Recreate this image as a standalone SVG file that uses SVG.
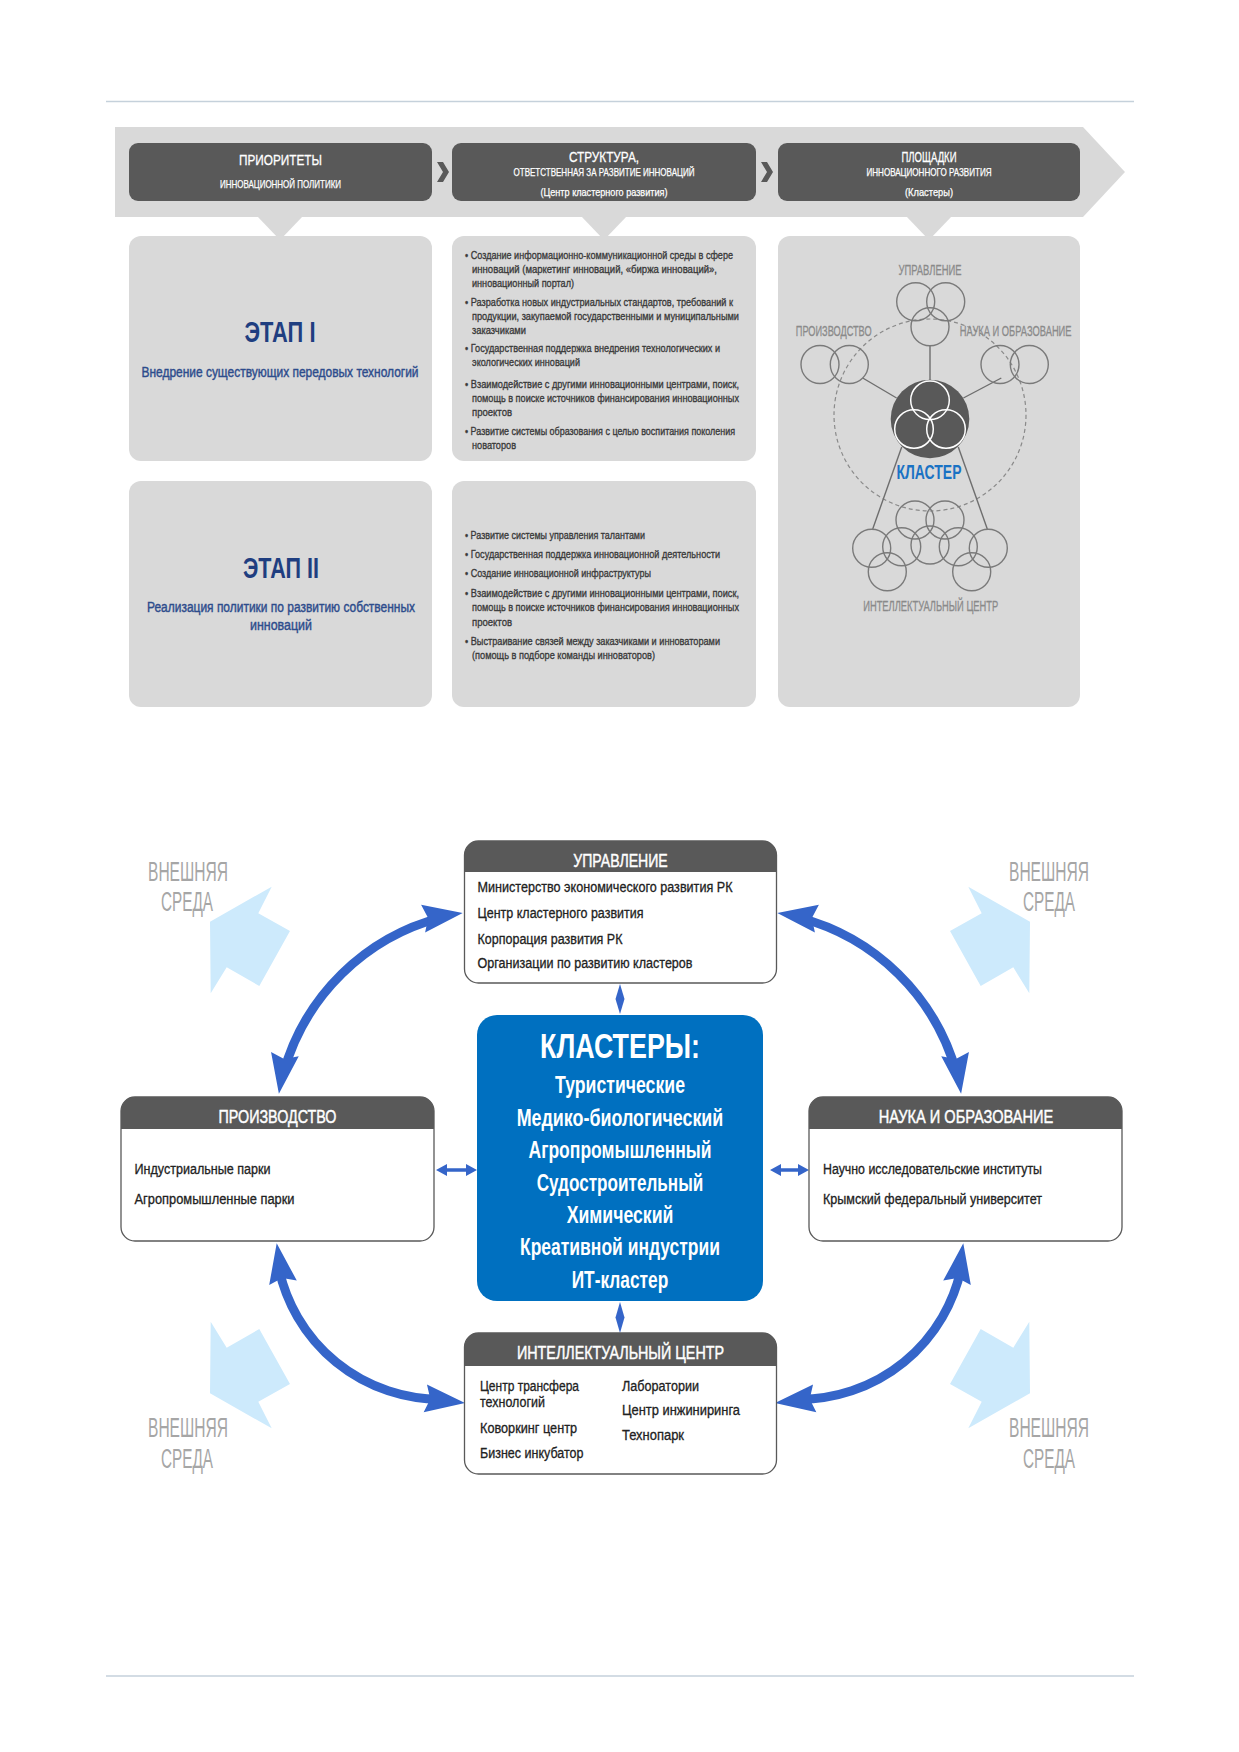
<svg xmlns="http://www.w3.org/2000/svg" width="1239" height="1752" viewBox="0 0 1239 1752">
<defs>
<style>
text{font-family:"Liberation Sans Narrow","Liberation Sans",Arial,sans-serif}
.bt{fill:#fff;stroke:#fff;stroke-width:0.3;font-size:15.5px;text-anchor:middle}
.bs{fill:#fff;stroke:#fff;stroke-width:0.25;font-size:10.5px;text-anchor:middle}
.bul{fill:#3a3a3a;stroke:#3a3a3a;stroke-width:0.35;font-size:11.5px}
.stg{fill:#1f3e80;font-size:29px;font-weight:bold;text-anchor:middle}
.sd{fill:#2d4c8c;stroke:#2d4c8c;stroke-width:0.4;font-size:14px;text-anchor:middle}
.cl{fill:#8a8a8a;stroke:#8a8a8a;stroke-width:0.3;font-size:14px;text-anchor:middle}
.circ{fill:none;stroke:#7a7a7a;stroke-width:1.4}
.ln{stroke:#6e6e6e;stroke-width:1.4}
.hd{fill:#fff;stroke:#fff;stroke-width:0.45;font-size:18px;text-anchor:middle}
.bd{fill:#222;stroke:#222;stroke-width:0.3;font-size:14px}
.ki{fill:#fff;font-size:24px;font-weight:bold;text-anchor:middle}
.ext{fill:#a6a6a6;font-size:27px;text-anchor:middle}
.ebox{fill:#fff;stroke:#595959;stroke-width:1.3}
.ehd{fill:#595959}
.dk{fill:#595959}
.pn{fill:#d9d9d9}
.blue{fill:#3565c9}
.arc{fill:none;stroke:#3565c9;stroke-width:9}
.lb{fill:#cdeafc}
.rule{stroke:#c5d1db;stroke-width:1.6}
</style>
</defs>
<rect width="1239" height="1752" fill="#fff"/>
<line class="rule" x1="106" y1="101.5" x2="1134" y2="101.5"/>
<line class="rule" x1="106" y1="1676" x2="1134" y2="1676"/>

<g id="banner">
<polygon class="pn" points="115,127 1083,127 1125,172 1083,217 115,217"/>
<polygon class="pn" points="257,216 303,216 280,240"/>
<polygon class="pn" points="581,216 627,216 604,240"/>
<polygon class="pn" points="906,216 952,216 929,240"/>
<polygon class="dk" points="437,162 443,162 449,172 443,182 437,182 443,172"/>
<polygon class="dk" points="761,162 767,162 773,172 767,182 761,182 767,172"/>
</g>

<g id="priorities">
<rect class="dk" x="129" y="143" width="303" height="58" rx="9"/>
<text class="bt" x="280.5" y="165" textLength="83" lengthAdjust="spacingAndGlyphs">ПРИОРИТЕТЫ</text>
<text class="bs" x="280.5" y="187.5" textLength="121" lengthAdjust="spacingAndGlyphs">ИННОВАЦИОННОЙ ПОЛИТИКИ</text>
</g>
<g id="structure">
<rect class="dk" x="452" y="143" width="304" height="58" rx="9"/>
<text class="bt" x="604" y="162" textLength="70" lengthAdjust="spacingAndGlyphs">СТРУКТУРА,</text>
<text class="bs" x="604" y="175.5" textLength="181" lengthAdjust="spacingAndGlyphs">ОТВЕТСТВЕННАЯ ЗА РАЗВИТИЕ ИННОВАЦИЙ</text>
<text class="bs" x="604" y="196" textLength="127" lengthAdjust="spacingAndGlyphs">(Центр кластерного развития)</text>
</g>
<g id="platforms">
<rect class="dk" x="778" y="143" width="302" height="58" rx="9"/>
<text class="bt" x="929" y="162" textLength="55" lengthAdjust="spacingAndGlyphs">ПЛОЩАДКИ</text>
<text class="bs" x="929" y="175.5" textLength="125" lengthAdjust="spacingAndGlyphs">ИННОВАЦИОННОГО РАЗВИТИЯ</text>
<text class="bs" x="929" y="196" textLength="48" lengthAdjust="spacingAndGlyphs">(Кластеры)</text>
</g>

<g id="stage1">
<rect class="pn" x="129" y="236" width="303" height="225" rx="12"/>
<text class="stg" x="280" y="342" textLength="71" lengthAdjust="spacingAndGlyphs">ЭТАП  I</text>
<text class="sd" x="280" y="377" textLength="277" lengthAdjust="spacingAndGlyphs">Внедрение существующих передовых технологий</text>
</g>
<g id="stage1-tasks">
<rect class="pn" x="452" y="236" width="304" height="225" rx="12"/>
<text class="bul" x="465" y="258.5" textLength="268" lengthAdjust="spacingAndGlyphs">• Создание информационно-коммуникационной среды в сфере</text>
<text class="bul" x="472" y="272.5" textLength="245" lengthAdjust="spacingAndGlyphs">инноваций (маркетинг инноваций, «биржа инноваций»,</text>
<text class="bul" x="472" y="286.5" textLength="102" lengthAdjust="spacingAndGlyphs">инновационный портал)</text>
<text class="bul" x="465" y="305.5" textLength="268" lengthAdjust="spacingAndGlyphs">• Разработка новых индустриальных стандартов, требований к</text>
<text class="bul" x="472" y="319.5" textLength="267" lengthAdjust="spacingAndGlyphs">продукции, закупаемой государственными и муниципальными</text>
<text class="bul" x="472" y="333.5" textLength="54" lengthAdjust="spacingAndGlyphs">заказчиками</text>
<text class="bul" x="465" y="351.5" textLength="255" lengthAdjust="spacingAndGlyphs">• Государственная поддержка внедрения технологических и</text>
<text class="bul" x="472" y="365.5" textLength="108" lengthAdjust="spacingAndGlyphs">экологических инноваций</text>
<text class="bul" x="465" y="387.5" textLength="274" lengthAdjust="spacingAndGlyphs">• Взаимодействие с другими инновационными центрами, поиск,</text>
<text class="bul" x="472" y="401.5" textLength="267" lengthAdjust="spacingAndGlyphs">помощь в поиске источников финансирования инновационных</text>
<text class="bul" x="472" y="415.5" textLength="40" lengthAdjust="spacingAndGlyphs">проектов</text>
<text class="bul" x="465" y="434.5" textLength="270" lengthAdjust="spacingAndGlyphs">• Развитие системы образования с целью воспитания поколения</text>
<text class="bul" x="472" y="448.5" textLength="44" lengthAdjust="spacingAndGlyphs">новаторов</text>
</g>

<g id="stage2">
<rect class="pn" x="129" y="481" width="303" height="226" rx="12"/>
<text class="stg" x="281" y="578" textLength="76" lengthAdjust="spacingAndGlyphs">ЭТАП  II</text>
<text class="sd" x="281" y="612" textLength="268" lengthAdjust="spacingAndGlyphs">Реализация политики по развитию собственных</text>
<text class="sd" x="281" y="630" textLength="62" lengthAdjust="spacingAndGlyphs">инноваций</text>
</g>
<g id="stage2-tasks">
<rect class="pn" x="452" y="481" width="304" height="226" rx="12"/>
<text class="bul" x="465" y="538.5" textLength="180" lengthAdjust="spacingAndGlyphs">• Развитие системы управления талантами</text>
<text class="bul" x="465" y="557.5" textLength="255" lengthAdjust="spacingAndGlyphs">• Государственная поддержка инновационной деятельности</text>
<text class="bul" x="465" y="576.5" textLength="186" lengthAdjust="spacingAndGlyphs">• Создание инновационной инфраструктуры</text>
<text class="bul" x="465" y="596.5" textLength="274" lengthAdjust="spacingAndGlyphs">• Взаимодействие с другими инновационными центрами, поиск,</text>
<text class="bul" x="472" y="610.5" textLength="267" lengthAdjust="spacingAndGlyphs">помощь в поиске источников финансирования инновационных</text>
<text class="bul" x="472" y="625.5" textLength="40" lengthAdjust="spacingAndGlyphs">проектов</text>
<text class="bul" x="465" y="644.5" textLength="255" lengthAdjust="spacingAndGlyphs">• Выстраивание связей между заказчиками и инноваторами</text>
<text class="bul" x="472" y="658.5" textLength="183" lengthAdjust="spacingAndGlyphs">(помощь в подборе команды инноваторов)</text>
</g>

<g id="cluster-scheme">
<rect class="pn" x="778" y="236" width="302" height="471" rx="12"/>
<circle cx="930" cy="415" r="96" fill="none" stroke="#8a8a8a" stroke-width="1.2" stroke-dasharray="4 3"/>
<line class="ln" x1="930" y1="345.7" x2="930" y2="380"/>
<line class="ln" x1="862.7" y1="378" x2="896.6" y2="398"/>
<line class="ln" x1="1001.3" y1="378" x2="963.4" y2="398"/>
<line class="ln" x1="901.7" y1="447" x2="872.7" y2="529"/>
<line class="ln" x1="958.3" y1="447" x2="987.3" y2="529"/>
<circle class="circ" cx="915.7" cy="301.7" r="19"/>
<circle class="circ" cx="945.7" cy="301.7" r="19"/>
<circle class="circ" cx="930" cy="326.7" r="19"/>
<circle class="circ" cx="820" cy="364.5" r="19"/>
<circle class="circ" cx="849.3" cy="364.5" r="19"/>
<circle class="circ" cx="1000" cy="364.5" r="19"/>
<circle class="circ" cx="1029.3" cy="364.5" r="19"/>
<circle class="circ" cx="915" cy="520" r="19"/>
<circle class="circ" cx="945" cy="520" r="19"/>
<circle class="circ" cx="871.7" cy="548.3" r="19"/>
<circle class="circ" cx="901.7" cy="546.7" r="19"/>
<circle class="circ" cx="930" cy="545" r="19"/>
<circle class="circ" cx="958.3" cy="546.7" r="19"/>
<circle class="circ" cx="988.3" cy="548.3" r="19"/>
<circle class="circ" cx="887.3" cy="571.7" r="19"/>
<circle class="circ" cx="971.7" cy="571.7" r="19"/>
<circle cx="930" cy="419" r="39.3" fill="#595959"/>
<circle cx="930" cy="400.3" r="19.3" fill="none" stroke="#fff" stroke-width="1.5"/>
<circle cx="914" cy="429" r="19.3" fill="none" stroke="#fff" stroke-width="1.5"/>
<circle cx="946" cy="429" r="19.3" fill="none" stroke="#fff" stroke-width="1.5"/>
<text class="cl" x="930" y="274.5" textLength="63" lengthAdjust="spacingAndGlyphs">УПРАВЛЕНИЕ</text>
<text class="cl" x="833.7" y="336" textLength="75.7" lengthAdjust="spacingAndGlyphs">ПРОИЗВОДСТВО</text>
<text class="cl" x="1015.7" y="336" textLength="111.7" lengthAdjust="spacingAndGlyphs">НАУКА И ОБРАЗОВАНИЕ</text>
<text x="929" y="479" fill="#1a72c4" font-size="21" font-weight="bold" text-anchor="middle" textLength="65" lengthAdjust="spacingAndGlyphs">КЛАСТЕР</text>
<text class="cl" x="930.7" y="611" textLength="135" lengthAdjust="spacingAndGlyphs">ИНТЕЛЛЕКТУАЛЬНЫЙ ЦЕНТР</text>
</g>

<g id="external-env">
<polygon class="lb" points="271.7,886.7 258.3,913.3 290,931 259.3,986 226.7,967.3 210.7,993.3 210,921.7"/>
<polygon class="lb" points="271.7,1428.3 258.3,1401.7 290,1384 259.3,1329 226.7,1347.7 210.7,1321.7 210,1393.3"/>
<polygon class="lb" points="968.3,886.7 981.7,913.3 950,931 980.7,986 1013.3,967.3 1029.3,993.3 1030,921.7"/>
<polygon class="lb" points="968.3,1428.3 981.7,1401.7 950,1384 980.7,1329 1013.3,1347.7 1029.3,1321.7 1030,1393.3"/>
<text class="ext" x="188" y="881" textLength="80" lengthAdjust="spacingAndGlyphs">ВНЕШНЯЯ</text>
<text class="ext" x="187" y="911" textLength="52" lengthAdjust="spacingAndGlyphs">СРЕДА</text>
<text class="ext" x="1049" y="881" textLength="80" lengthAdjust="spacingAndGlyphs">ВНЕШНЯЯ</text>
<text class="ext" x="1049" y="911" textLength="52" lengthAdjust="spacingAndGlyphs">СРЕДА</text>
<text class="ext" x="188" y="1437" textLength="80" lengthAdjust="spacingAndGlyphs">ВНЕШНЯЯ</text>
<text class="ext" x="187" y="1468" textLength="52" lengthAdjust="spacingAndGlyphs">СРЕДА</text>
<text class="ext" x="1049" y="1437" textLength="80" lengthAdjust="spacingAndGlyphs">ВНЕШНЯЯ</text>
<text class="ext" x="1049" y="1468" textLength="52" lengthAdjust="spacingAndGlyphs">СРЕДА</text>
</g>

<g id="connectors">
<path class="arc" d="M441.2,917.5 A221.4,221.4 0 0 0 283.7,1072.3"/>
<path class="arc" d="M798.8,917.5 A221.4,221.4 0 0 1 956.3,1072.3"/>
<path class="arc" d="M278.2,1265.1 A165,165 0 0 0 443.2,1399.2"/>
<path class="arc" d="M961.8,1265.1 A165,165 0 0 1 796.8,1399.2"/>
<polygon class="blue" points="462.7,913 421.1,904.7 428.1,917.9 425.1,932.5"/>
<polygon class="blue" points="278.9,1093.7 271.05,1052 284.15,1059 298.75,1056.2"/>
<polygon class="blue" points="777.3,913 818.9,904.7 811.9,917.9 814.9,932.5"/>
<polygon class="blue" points="961.1,1093.7 968.95,1052 955.85,1059 941.25,1056.2"/>
<polygon class="blue" points="276.7,1243.3 296.8,1280.6 282.2,1277.9 269.2,1285"/>
<polygon class="blue" points="465,1403 426.95,1384.4 430.3,1398.9 423.65,1412.2"/>
<polygon class="blue" points="963.3,1243.3 943.2,1280.6 957.8,1277.9 970.8,1285"/>
<polygon class="blue" points="775,1403 813.05,1384.4 809.7,1398.9 816.35,1412.2"/>
<polygon class="blue" points="620,984 624.5,999 620,1014 615.5,999"/>
<polygon class="blue" points="620,1302 624.5,1317.5 620,1333 615.5,1317.5"/>
<polygon class="blue" points="436,1170 447,1164 447,1168.3 466,1168.3 466,1164 477,1170 466,1176 466,1171.7 447,1171.7 447,1176"/>
<polygon class="blue" points="770,1170 781,1164 781,1168.3 798,1168.3 798,1164 809,1170 798,1176 798,1171.7 781,1171.7 781,1176"/>
</g>

<g id="management">
<rect class="ebox" x="464.5" y="841" width="312" height="142" rx="14"/>
<path class="ehd" d="M464.5,872 V855 A14,14 0 0 1 478.5,841 H762.5 A14,14 0 0 1 776.5,855 V872 Z"/>
<text class="hd" x="620.5" y="867" textLength="94.5" lengthAdjust="spacingAndGlyphs">УПРАВЛЕНИЕ</text>
<text class="bd" x="477.5" y="892" textLength="255" lengthAdjust="spacingAndGlyphs">Министерство экономического развития РК</text>
<text class="bd" x="477.5" y="918" textLength="166" lengthAdjust="spacingAndGlyphs">Центр кластерного развития</text>
<text class="bd" x="477.5" y="943.5" textLength="145" lengthAdjust="spacingAndGlyphs">Корпорация развития РК</text>
<text class="bd" x="477.5" y="968" textLength="215" lengthAdjust="spacingAndGlyphs">Организации по развитию кластеров</text>
</g>

<g id="production">
<rect class="ebox" x="121" y="1097" width="313" height="144" rx="14"/>
<path class="ehd" d="M121,1129 V1111 A14,14 0 0 1 135,1097 H420 A14,14 0 0 1 434,1111 V1129 Z"/>
<text class="hd" x="277.5" y="1123" textLength="118" lengthAdjust="spacingAndGlyphs">ПРОИЗВОДСТВО</text>
<text class="bd" x="134.5" y="1174" textLength="136" lengthAdjust="spacingAndGlyphs">Индустриальные парки</text>
<text class="bd" x="134.5" y="1203.5" textLength="160" lengthAdjust="spacingAndGlyphs">Агропромышленные парки</text>
</g>

<g id="science">
<rect class="ebox" x="809" y="1097" width="313" height="144" rx="14"/>
<path class="ehd" d="M809,1129 V1111 A14,14 0 0 1 823,1097 H1108 A14,14 0 0 1 1122,1111 V1129 Z"/>
<text class="hd" x="966" y="1123" textLength="174.7" lengthAdjust="spacingAndGlyphs">НАУКА И ОБРАЗОВАНИЕ</text>
<text class="bd" x="823" y="1174" textLength="219" lengthAdjust="spacingAndGlyphs">Научно исследовательские институты</text>
<text class="bd" x="823" y="1203.5" textLength="219" lengthAdjust="spacingAndGlyphs">Крымский федеральный университет</text>
</g>

<g id="intellect-center">
<rect class="ebox" x="464.5" y="1333" width="312" height="141" rx="14"/>
<path class="ehd" d="M464.5,1366 V1347 A14,14 0 0 1 478.5,1333 H762.5 A14,14 0 0 1 776.5,1347 V1366 Z"/>
<text class="hd" x="620.5" y="1359" textLength="207" lengthAdjust="spacingAndGlyphs">ИНТЕЛЛЕКТУАЛЬНЫЙ ЦЕНТР</text>
<text class="bd" x="480" y="1391" textLength="99" lengthAdjust="spacingAndGlyphs">Центр трансфера</text>
<text class="bd" x="480" y="1407" textLength="65" lengthAdjust="spacingAndGlyphs">технологий</text>
<text class="bd" x="480" y="1432.5" textLength="97" lengthAdjust="spacingAndGlyphs">Коворкинг центр</text>
<text class="bd" x="480" y="1457.5" textLength="103.5" lengthAdjust="spacingAndGlyphs">Бизнес инкубатор</text>
<text class="bd" x="622" y="1391" textLength="77" lengthAdjust="spacingAndGlyphs">Лаборатории</text>
<text class="bd" x="622" y="1415" textLength="118" lengthAdjust="spacingAndGlyphs">Центр инжиниринга</text>
<text class="bd" x="622" y="1440" textLength="62" lengthAdjust="spacingAndGlyphs">Технопарк</text>
</g>

<g id="clusters">
<rect x="477" y="1015" width="286" height="286" rx="20" fill="#0070c0"/>
<text x="620" y="1058" fill="#fff" font-size="35" font-weight="bold" text-anchor="middle" textLength="160" lengthAdjust="spacingAndGlyphs">КЛАСТЕРЫ:</text>
<text class="ki" x="620" y="1093" textLength="130" lengthAdjust="spacingAndGlyphs">Туристические</text>
<text class="ki" x="620" y="1125.5" textLength="206.7" lengthAdjust="spacingAndGlyphs">Медико-биологический</text>
<text class="ki" x="620" y="1158" textLength="183" lengthAdjust="spacingAndGlyphs">Агропромышленный</text>
<text class="ki" x="620" y="1190.5" textLength="166.7" lengthAdjust="spacingAndGlyphs">Судостроительный</text>
<text class="ki" x="620" y="1223" textLength="106.7" lengthAdjust="spacingAndGlyphs">Химический</text>
<text class="ki" x="620" y="1255" textLength="200" lengthAdjust="spacingAndGlyphs">Креативной индустрии</text>
<text class="ki" x="620" y="1288" textLength="96.7" lengthAdjust="spacingAndGlyphs">ИТ-кластер</text>
</g>
</svg>
